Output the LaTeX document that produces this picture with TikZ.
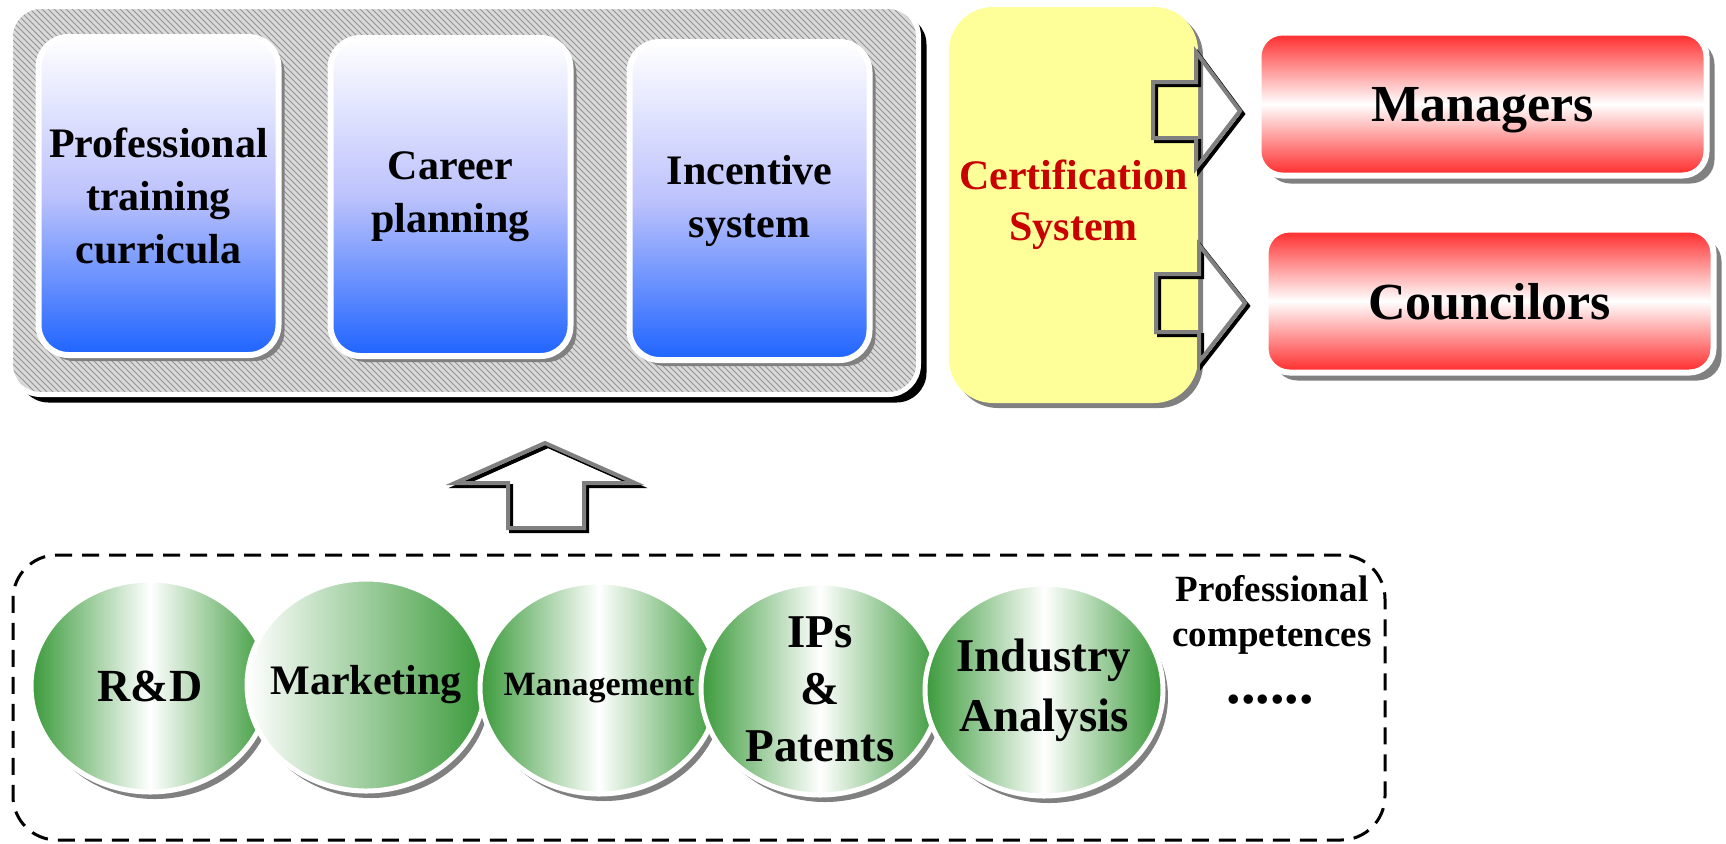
\documentclass[tikz,border=0pt]{standalone}
\usepackage{fontspec}
\setmainfont{Liberation Serif}
\usetikzlibrary{shapes}
\usetikzlibrary{shadows}
\usetikzlibrary{patterns}

\definecolor{deepBlue}{RGB}{30,100,255}
\definecolor{paleBlue}{RGB}{188,194,252}
\definecolor{certYellow}{RGB}{255,255,153}
\definecolor{certRed}{RGB}{200,0,0}
\definecolor{roleRed}{RGB}{255,40,40}
\definecolor{skillGreen}{RGB}{58,154,58}

\begin{document}
\begin{tikzpicture}[x = 0.5pt, y = -0.5pt, font=\bfseries]
	\tikzstyle{panelStyle}=[draw=white, line width=2.5pt, rounded corners=15pt, inner sep=0pt, minimum width=454pt, minimum height=194pt, drop shadow={shadow xshift=4pt, shadow yshift=-4pt, fill=black, opacity=1}, preaction={fill=gray!30}, pattern=north west lines, pattern color=gray!85]
	\tikzstyle{blueStyle}=[draw=white, line width=3pt, rounded corners=15pt, inner sep=0pt, minimum width=120pt, minimum height=159pt, align=center, top color=white, bottom color=deepBlue, middle color=paleBlue, drop shadow={shadow xshift=3pt, shadow yshift=-3pt, fill=gray, opacity=1}, font=\fontsize{21}{26.5}\selectfont\bfseries]
	\tikzstyle{certStyle}=[fill=certYellow, rounded corners=22pt, inner sep=0pt, minimum width=124.5pt, minimum height=198pt, align=center, text=certRed, drop shadow={shadow xshift=2.5pt, shadow yshift=-2.5pt, fill=gray, opacity=1}, font=\fontsize{21}{25.5}\selectfont\bfseries]
	\tikzstyle{roleStyle}=[draw=white, line width=3pt, rounded corners=12pt, inner sep=0pt, minimum width=224pt, minimum height=71.5pt, text depth=0pt, top color=roleRed, bottom color=roleRed, middle color=white, drop shadow={shadow xshift=4pt, shadow yshift=-4pt, fill=gray, opacity=1}, font=\fontsize{26}{30}\selectfont\bfseries]
	\tikzstyle{skillStyle}=[shape = ellipse, draw=white, line width=2.5pt, inner sep=0pt, minimum width=119pt, minimum height=106pt, drop shadow={shadow xshift=2.5pt, shadow yshift=-3.5pt, fill=gray, opacity=1}]
	\tikzstyle{greenMid}=[left color=skillGreen, right color=skillGreen, middle color=white]
	\tikzstyle{greenRight}=[left color=white, right color=skillGreen]
	\tikzstyle{arrowShade}=[draw=black, line width=2pt, shift={(3,3)}]
	\tikzstyle{arrowLine}=[draw=gray, line width=2pt]
	\useasboundingbox (0,0) rectangle (1726,843);
	% training panel
	\node[panelStyle] (panel) at (464.5,200.5) {};
	\node[blueStyle] (train) at (158.5,196) {Professional\\training\\curricula};
	\node[blueStyle] (career) at (450.5,197) {Career\\planning};
	\node[blueStyle] (incent) at (749.5,201) {Incentive\\system};
	% certification
	\node[certStyle] (cert) at (1073.5,205) {Certification\\System};
	\draw[arrowShade] (1153,82) -- (1196,82) -- (1196,52) -- (1240,111) -- (1196,168) -- (1196,138) -- (1153,138) -- cycle;
	\draw[arrowLine] (1153,82) -- (1196,82) -- (1196,52) -- (1240,111) -- (1196,168) -- (1196,138) -- (1153,138) -- cycle;
	\draw[arrowShade] (1156,274) -- (1199,274) -- (1199,245) -- (1245,303) -- (1199,362) -- (1199,332) -- (1156,332) -- cycle;
	\draw[arrowLine] (1156,274) -- (1199,274) -- (1199,245) -- (1245,303) -- (1199,362) -- (1199,332) -- (1156,332) -- cycle;
	\node[roleStyle] (mgr) at (1482.5,104) {Managers};
	\node[roleStyle] (coun) at (1489.5,301) {Councilors};
	% up arrow
	\draw[arrowShade] (508,528) -- (508,483) -- (455,483) -- (545,443) -- (635,483) -- (584,483) -- (584,528) -- cycle;
	\draw[arrowLine] (508,528) -- (508,483) -- (455,483) -- (545,443) -- (635,483) -- (584,483) -- (584,528) -- cycle;
	% competences
	\node[draw, line width=1.5pt, dash pattern=on 8.5pt off 5pt, rounded corners=22pt, minimum width=686pt, minimum height=142.5pt] (comp) at (699,697.5) {};
	\node[skillStyle, greenMid, label={[font=\fontsize{23}{28}\selectfont\bfseries]center:R\&D}] (rd) at (150,686) {};
	\node[skillStyle, greenRight, label={[font=\fontsize{21}{26}\selectfont\bfseries]center:Marketing}] (mkt) at (366,685) {};
	\node[skillStyle, greenMid, label={[font=\fontsize{17}{20}\selectfont\bfseries]center:Management}] (mgt) at (599,688) {};
	\node[skillStyle, greenMid, label={[align=center, font=\fontsize{23.5}{28.5}\selectfont\bfseries]center:IPs\\\&\\Patents}] (ip) at (820,689) {};
	\node[skillStyle, greenMid, label={[align=center, font=\fontsize{23.5}{30}\selectfont\bfseries]center:Industry\\Analysis}] (ind) at (1044,690) {};
	\node[align=center, font=\fontsize{18.5}{22.5}\selectfont\bfseries] (pc) at (1272,614.5) {Professional\\competences};
	\node[font=\fontsize{29}{30}\selectfont\bfseries] (dots) at (1270,700) {......};
\end{tikzpicture}
\end{document}
